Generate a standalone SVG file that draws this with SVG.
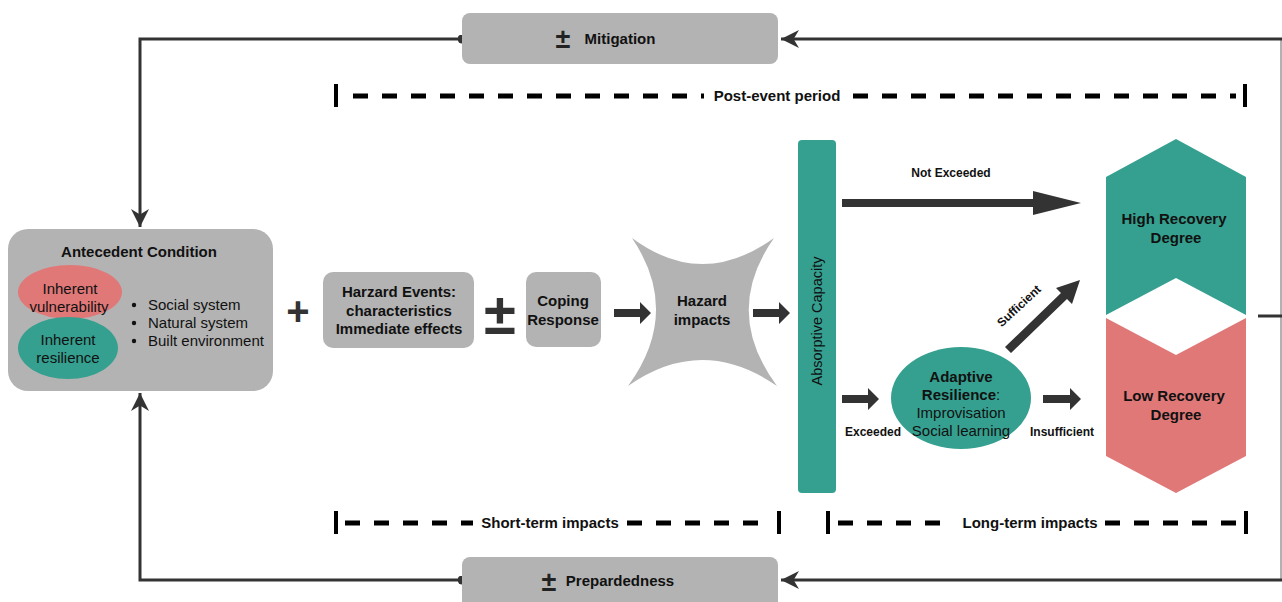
<svg xmlns="http://www.w3.org/2000/svg" width="1282" height="602" viewBox="0 0 1282 602">
<style>
text{font-family:"Liberation Sans",Arial,sans-serif;fill:#111;text-anchor:middle}
.b{font-weight:bold}
.t14{font-size:14px}
.t15{font-size:15px}
.tb{font-size:15px;font-weight:bold}
.t12{font-size:12px}
.gray{fill:#b3b3b3}
.teal{fill:#35a08f}
.red{fill:#e07878}
.line{stroke:#333;stroke-width:3;fill:none}
.dash{stroke:#000;stroke-width:5;stroke-dasharray:15 14;fill:none}
.bar{stroke:#000;stroke-width:4}
</style>
<defs>
<marker id="ah" viewBox="0 0 10 10" refX="10" refY="5" markerWidth="6" markerHeight="6" orient="auto" markerUnits="strokeWidth">
<path d="M0,0 L10,5 L0,10 L3,5 Z" fill="#333"/>
</marker>
<marker id="dot" viewBox="0 0 10 10" refX="5" refY="5" markerWidth="3" markerHeight="3" orient="auto" markerUnits="strokeWidth">
<circle cx="5" cy="5" r="5" fill="#333"/>
</marker>
</defs>
<rect width="1282" height="602" fill="#fff"/>

<g id="connectors">
<line x1="1281" y1="39" x2="1281" y2="580" stroke="#999" stroke-width="1.5"/>
<polyline class="line" points="1282,39 781,39" marker-end="url(#ah)"/>
<polyline class="line" points="462,39 140,39 140,227" marker-start="url(#dot)" marker-end="url(#ah)"/>
<polyline class="line" points="1282,580 781,580" marker-end="url(#ah)"/>
<polyline class="line" points="462,580 140,580 140,393" marker-start="url(#dot)" marker-end="url(#ah)"/>
<line x1="1258" y1="316" x2="1282" y2="316" stroke="#333" stroke-width="3"/>
<path d="M614,309 H640 V302 L651,313 L640,324 V317 H614 Z" fill="#333"/>
<path d="M753,309 H779 V302 L790,313 L779,324 V317 H753 Z" fill="#333"/>
<path d="M842,199 H1033 V191 L1081,203 L1033,215 V207 H842 Z" fill="#333"/>
<path d="M842,395 H868 V388 L879,399 L868,410 V403 H842 Z" fill="#333"/>
<path d="M1043,395 H1070 V388 L1081,399 L1070,410 V403 H1043 Z" fill="#333"/>
<path d="M1005,347 L1061,293 L1056,288 L1080,280 L1072,304 L1067,299 L1011,353 Z" fill="#333"/>
<text class="b t12" x="951" y="177">Not Exceeded</text>
<text class="b t12" x="873" y="436">Exceeded</text>
<text class="b t12" x="1062" y="436">Insufficient</text>
<text class="b t12" x="1019" y="310" transform="rotate(-43 1019 306)">Sufficient</text>
</g>

<g id="periods">
<line class="bar" x1="336" y1="84" x2="336" y2="107"/>
<line class="dash" x1="353" y1="96" x2="704" y2="96"/>
<text class="tb" x="777" y="101">Post-event period</text>
<line class="dash" x1="853" y1="96" x2="1236" y2="96"/>
<line class="bar" x1="1245" y1="84" x2="1245" y2="107"/>

<line class="bar" x1="336" y1="511" x2="336" y2="534"/>
<line class="dash" x1="345" y1="523" x2="473" y2="523"/>
<text class="tb" x="550" y="528">Short-term impacts</text>
<line class="dash" x1="627" y1="523" x2="771" y2="523"/>
<line class="bar" x1="779" y1="511" x2="779" y2="534"/>

<line class="bar" x1="828" y1="511" x2="828" y2="534"/>
<line class="dash" x1="838" y1="523" x2="951" y2="523"/>
<text class="tb" x="1030" y="528">Long-term impacts</text>
<line class="dash" x1="1105" y1="523" x2="1237" y2="523"/>
<line class="bar" x1="1246" y1="511" x2="1246" y2="534"/>
</g>

<g id="mitigation">
<rect class="gray" x="462" y="13" width="316" height="51" rx="8"/>
<text class="b" x="563" y="48" style="font-size:27px;fill:#222">±</text>
<text class="tb" x="620" y="44">Mitigation</text>
</g>

<g id="preparedness">
<rect class="gray" x="462" y="557" width="316" height="52" rx="8"/>
<text class="b" x="549" y="591" style="font-size:27px;fill:#222">±</text>
<text class="tb" x="620" y="586">Prepardedness</text>
</g>

<g id="antecedent">
<rect class="gray" x="8" y="229" width="265" height="162" rx="20"/>
<text class="tb" x="139" y="257">Antecedent Condition</text>
<ellipse class="red" cx="70" cy="292" rx="52" ry="27"/>
<ellipse class="teal" cx="68" cy="348" rx="50" ry="31"/>
<text class="t15" x="70" y="294">Inherent</text>
<text class="t15" x="69" y="312">vulnerability</text>
<text class="t15" x="68" y="345">Inherent</text>
<text class="t15" x="68" y="363">resilience</text>
<circle cx="134" cy="305" r="2.2" fill="#111"/>
<circle cx="134" cy="323" r="2.2" fill="#111"/>
<circle cx="134" cy="341" r="2.2" fill="#111"/>
<text class="t15" x="148" y="310" style="text-anchor:start">Social system</text>
<text class="t15" x="148" y="328" style="text-anchor:start">Natural system</text>
<text class="t15" x="148" y="346" style="text-anchor:start">Built environment</text>
</g>

<g id="plus">
<text class="b" x="298" y="325" style="font-size:40px;fill:#333">+</text>
</g>

<g id="hazard-events">
<rect class="gray" x="323" y="272" width="151" height="76" rx="10"/>
<text class="tb" x="399" y="297">Harzard Events:</text>
<text class="tb" x="399" y="316">characteristics</text>
<text class="tb" x="399" y="334">Immediate effects</text>
</g>

<g id="plusminus">
<text class="b" x="500" y="334" style="font-size:58px;fill:#333">±</text>
</g>

<g id="coping">
<rect class="gray" x="526" y="272" width="75" height="75" rx="10"/>
<text class="tb" x="563" y="306">Coping</text>
<text class="tb" x="563" y="325">Response</text>
</g>

<g id="hazard-impacts">
<path class="gray" d="M632,238 Q702,290 774,238 Q722,312 777,386 Q702,334 628,386 Q682,312 632,238 Z"/>
<text class="tb" x="702" y="306">Hazard</text>
<text class="tb" x="702" y="325">impacts</text>
</g>

<g id="absorptive">
<rect class="teal" x="798" y="140" width="38" height="353" rx="4"/>
<text x="817" y="321" transform="rotate(-90 817 321)" dy="5" style="font-size:14.5px">Absorptive Capacity</text>
</g>

<g id="adaptive">
<ellipse class="teal" cx="961" cy="398" rx="70" ry="51"/>
<text class="tb" x="961" y="382">Adaptive</text>
<text class="t15" x="961" y="400"><tspan class="b">Resilience</tspan>:</text>
<text class="t15" x="961" y="418">Improvisation</text>
<text class="t15" x="961" y="436">Social learning</text>
</g>

<g id="high-recovery">
<polygon class="teal" points="1176,139 1246,177 1246,315 1176,278 1106,315 1106,177"/>
<text class="tb" x="1174" y="224">High Recovery</text>
<text class="tb" x="1176" y="243">Degree</text>
</g>

<g id="low-recovery">
<polygon class="red" points="1106,318 1176,355 1246,318 1246,456 1176,493 1106,456"/>
<text class="tb" x="1174" y="401">Low Recovery</text>
<text class="tb" x="1176" y="420">Degree</text>
</g>
</svg>
